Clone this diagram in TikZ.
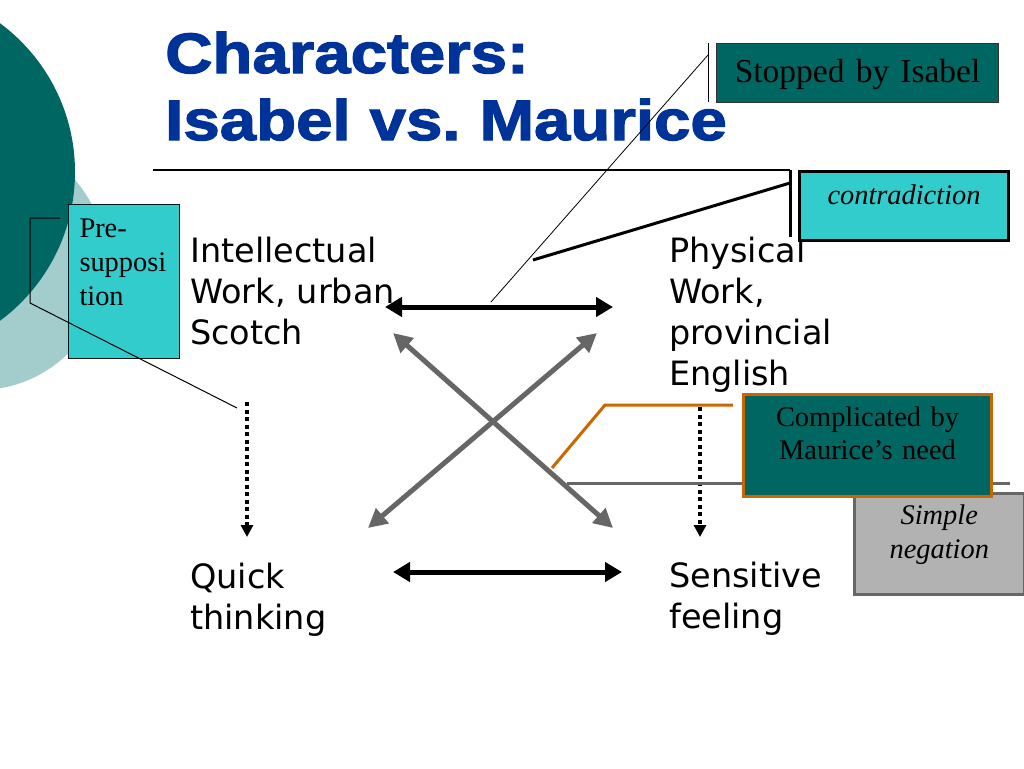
\documentclass[tikz,border=0pt]{standalone}
\usepackage{fontspec}
\setmainfont{Liberation Serif}
\newfontfamily\titlefont{Liberation Sans}[FakeStretch=1.15,FakeBold=2.2]
\newfontfamily\labelfont{DejaVu Sans}
\usetikzlibrary{arrows.meta}
\frenchspacing
\definecolor{darkteal}{RGB}{0,102,98}
\definecolor{lightteal}{RGB}{163,205,205}
\definecolor{cyanbox}{RGB}{51,204,204}
\definecolor{titleblue}{RGB}{0,51,153}
\definecolor{arrowgray}{RGB}{102,102,102}
\definecolor{orangeline}{RGB}{204,102,0}
\definecolor{negbox}{RGB}{178,178,178}
\tikzset{
  lbl/.style={anchor=base west, inner sep=0pt, align=left, text width=260pt,
    font=\labelfont\fontsize{33.5}{41}\selectfont},
  box/.style={anchor=north west, inner ysep=0pt, inner xsep=0pt, align=center},
  serifbox/.style={font=\fontsize{28.4}{33}\selectfont},
  blackarrow/.style={line width=5pt,
    {Triangle[length=17pt,width=19pt]}-{Triangle[length=17pt,width=19pt]}},
  grayarrow/.style={line width=5pt, draw=arrowgray,
    {Triangle[length=19pt,width=19pt]}-{Triangle[length=19pt,width=19pt]}},
  dotarrow/.style={line width=4pt, dash pattern=on 4pt off 3.5pt,
    -{Triangle[length=12pt,width=12pt]}},
  thinline/.style={line width=1pt, draw=black},
}
\begin{document}
\begin{tikzpicture}[x=1pt,y=-1pt]
\useasboundingbox (0,0) rectangle (1024,768);
\fill[white] (0,0) rectangle (1024,768);
\begin{scope}
\clip (0,0) rectangle (1024,768);
\fill[lightteal] (-21,263) circle[radius=127];
\fill[darkteal] (-110,172) circle[radius=185];
\end{scope}

% title
\node[anchor=base west, inner sep=0pt, align=left, text=titleblue, text width=640pt,
  font=\titlefont\bfseries\fontsize{56.9}{67}\selectfont] (title) at (165,73)
  {Characters:\\Isabel vs. Maurice};
\coordinate (ruleL) at (153,170);
\coordinate (ruleR) at (790,170);
\draw[line width=1.3pt] (ruleL) -- (ruleR);

% labels
\node[lbl] (intel) at (190,262) {Intellectual\\Work, urban,\\Scotch};
\node[lbl] (phys) at (669,262) {Physical\\Work,\\provincial\\English};
\node[lbl] (quick) at (190,588) {Quick\\thinking};
\node[lbl] (sens) at (669,587) {Sensitive\\feeling};

% arrows
\coordinate (t1) at (385,307);
\coordinate (t2) at (613,307);
\coordinate (b1) at (393,572);
\coordinate (b2) at (622,572);
\coordinate (d1a) at (393,333);
\coordinate (d1b) at (613,528);
\coordinate (d2a) at (368,528);
\coordinate (d2b) at (597,333);
\coordinate (l1) at (247,402);
\coordinate (l2) at (247,537);
\coordinate (r1) at (700,407);
\coordinate (r2) at (700,537);
\draw[blackarrow] (t1) -- (t2);
\draw[blackarrow] (b1) -- (b2);
\draw[grayarrow] (d1a) -- (d1b);
\draw[grayarrow] (d2a) -- (d2b);
\draw[dotarrow] (l1) -- (l2);
\draw[dotarrow] (r1) -- (r2);

% gray callout line
\coordinate (g1) at (567,483);
\coordinate (g2) at (1010,483);
\draw[line width=3pt, draw=arrowgray] (g1) -- (g2);

% boxes
\node[box, serifbox, fill=negbox, draw=arrowgray, line width=2.5pt,
  text width=170pt, text height=31pt, text depth=70pt,
  font=\itshape\fontsize{28.4}{34}\selectfont] (neg) at (853,492)
  {Simple\\negation};
\node[box, serifbox, fill=darkteal, draw=orangeline, line width=3pt,
  text width=248pt, text height=32pt, text depth=70pt] (comp) at (742,393)
  {Complicated by\\Maurice’s need};
\coordinate (o1) at (552,468);
\coordinate (o2) at (605,405);
\coordinate (o3) at (733,405);
\draw[line width=3pt, draw=orangeline] (o1) -- (o2) -- (o3);

\node[box, fill=darkteal, draw=black!80, line width=1.2pt,
  text width=282pt, text height=39pt, text depth=20pt,
  font=\fontsize{33.5}{40}\selectfont] (stop) at (716,43) {Stopped by Isabel};
\coordinate (s1) at (708,43);
\coordinate (s2) at (708,102);
\coordinate (s3) at (708,55);
\coordinate (s4) at (491,302);
\draw[thinline] (s1) -- (s2);
\draw[line width=0.8pt] (s3) -- (s4);

\node[box, fill=cyanbox, draw=black, line width=3pt,
  text width=209pt, text height=33pt, text depth=36pt,
  font=\itshape\fontsize{28.4}{33}\selectfont] (contra) at (798,170)
  {contradiction};
\coordinate (c1) at (790,170);
\coordinate (c2) at (790,237);
\coordinate (c3) at (790,183);
\coordinate (c4) at (533,260);
\draw[line width=3pt] (c1) -- (c2);
\draw[line width=3pt] (c3) -- (c4);

\node[anchor=north west, inner ysep=0pt, inner xsep=11pt, align=left,
  fill=cyanbox, draw=black!75!darkteal, line width=1pt,
  text width=89pt, text height=33pt, text depth=121pt,
  font=\fontsize{28.4}{34}\selectfont] (pre) at (68,204)
  {Pre-\\supposi\\tion};
\coordinate (p1) at (60,218);
\coordinate (p2) at (30,218);
\coordinate (p3) at (30,303);
\coordinate (p4) at (237,408);
\draw[thinline] (p1) -- (p2) -- (p3) -- (p4);
\end{tikzpicture}
\end{document}
